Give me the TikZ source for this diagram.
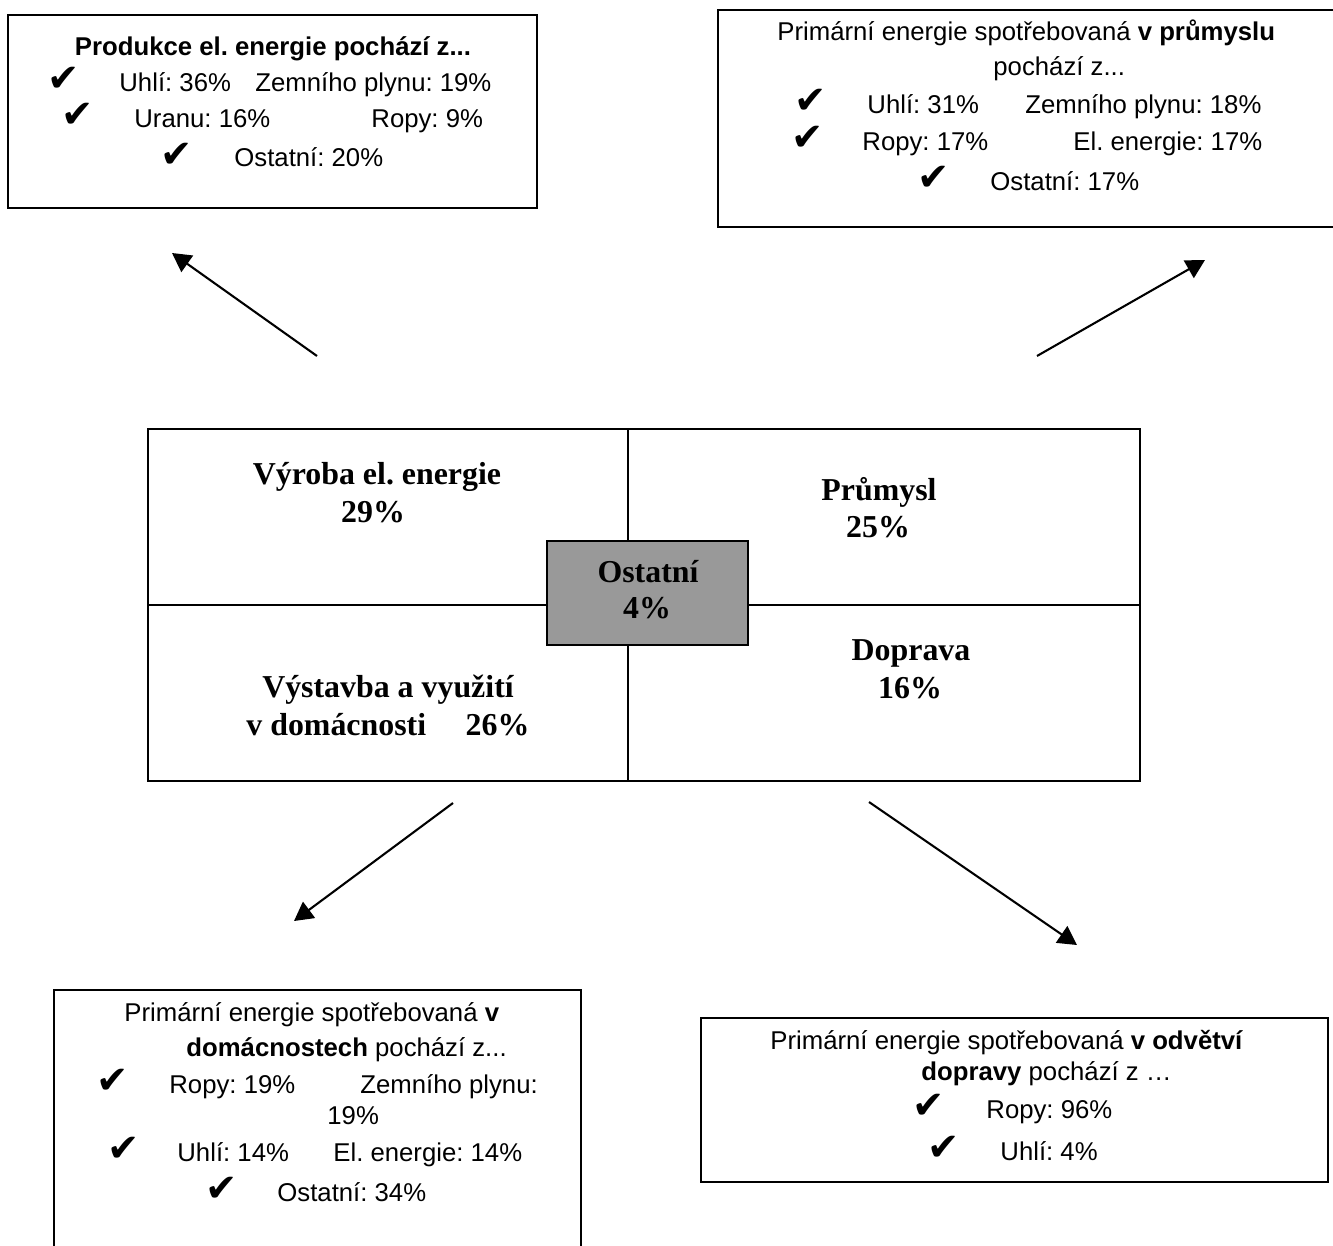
\documentclass[tikz,border=0pt]{standalone}
\usepackage{fontspec}
\usepackage{xcolor}
\usepackage{tikz}
\usetikzlibrary{arrows.meta}

\setmainfont{Liberation Sans}
\newfontfamily\quadfont{Liberation Serif}
\newfontfamily\tickfont{DejaVu Sans}
\frenchspacing

\definecolor{ostgray}{gray}{0.6}

\tikzset{
    box/.style={draw=black, line width=1pt},
    txt/.style={inner sep=0pt, anchor=base west, font=\fontsize{12.35}{15}\selectfont},
    btxt/.style={txt, anchor=base, font=\fontsize{12.35}{15}\selectfont\bfseries},
    quad/.style={inner sep=0pt, anchor=base, font=\quadfont\fontsize{15.3}{18}\selectfont\bfseries},
    tick/.style={inner sep=0pt, anchor=base west, text height=11pt, text depth=0pt, font=\tickfont\fontsize{18.5}{18.5}\selectfont},
    arr/.style={line width=1pt, -{Triangle[length=9pt, width=9.6pt]}}
}

\begin{document}
\begin{tikzpicture}[x=0.48pt, y=-0.48pt]
        \useasboundingbox (0,0) rectangle (1333,1245);

        % electricity production
        \draw[box] (8,15) rectangle (537,208);
        \node[btxt] (prodTitle) at (273,56) {Produkce el. energie pochází z...};
        \node[tick] (prodTickA) at (47,92) {✔};
        \node[txt] (prodUhli) at (119,92) {Uhlí: 36\%};
        \node[txt] (prodPlyn) at (255,92) {Zemního plynu: 19\%};
        \node[tick] (prodTickB) at (61,128) {✔};
        \node[txt] (prodUran) at (134,128) {Uranu: 16\%};
        \node[txt] (prodRopa) at (371,128) {Ropy: 9\%};
        \node[tick] (prodTickC) at (160,168) {✔};
        \node[txt] (prodOst) at (234,167) {Ostatní: 20\%};

        % industry
        \draw[box] (718,10) rectangle (1345,227);
        \node[txt] (prumTitle) at (777,41) {Primární energie spotřebovaná \textbf{v průmyslu}};
        \node[txt] (prumFrom) at (993,76) {pochází z...};
        \node[tick] (prumTickA) at (794,114) {✔};
        \node[txt] (prumUhli) at (867,114) {Uhlí: 31\%};
        \node[txt] (prumPlyn) at (1025,114) {Zemního plynu: 18\%};
        \node[tick] (prumTickB) at (791,151) {✔};
        \node[txt] (prumRopa) at (862,151) {Ropy: 17\%};
        \node[txt] (prumElek) at (1073,151) {El. energie: 17\%};
        \node[tick] (prumTickC) at (917,191) {✔};
        \node[txt] (prumOst) at (990,191) {Ostatní: 17\%};

        % households
        \draw[box] (54,1265) -- (54,990) -- (581,990) -- (581,1265);
        \node[txt] (domTitle) at (124,1021) {Primární energie spotřebovaná \textbf{v}};
        \node[txt] (domFrom) at (186,1056) {\textbf{domácnostech} pochází z...};
        \node[tick] (domTickA) at (96,1093) {✔};
        \node[txt] (domRopa) at (169,1093) {Ropy: 19\%};
        \node[txt] (domPlyn) at (360,1093) {Zemního plynu:};
        \node[txt] (domPlynB) at (327,1124) {19\%};
        \node[tick] (domTickB) at (107,1161) {✔};
        \node[txt] (domUhli) at (177,1161) {Uhlí: 14\%};
        \node[txt] (domElek) at (333,1161) {El. energie: 14\%};
        \node[tick] (domTickC) at (205,1201) {✔};
        \node[txt] (domOst) at (277,1201) {Ostatní: 34\%};

        % transport
        \draw[box] (701,1018) rectangle (1328,1182);
        \node[txt] (dopTitle) at (770,1049) {Primární energie spotřebovaná \textbf{v odvětví}};
        \node[txt] (dopFrom) at (921,1080) {\textbf{dopravy} pochází z …};
        \node[tick] (dopTickA) at (912,1118) {✔};
        \node[txt] (dopRopa) at (986,1118) {Ropy: 96\%};
        \node[tick] (dopTickB) at (927,1160) {✔};
        \node[txt] (dopUhli) at (1000,1160) {Uhlí: 4\%};

        % sectors
        \draw[box] (148,429) rectangle (1140,781);
        \draw[box] (628,429) -- (628,781);
        \draw[box] (148,605) -- (1140,605);
        \draw[box, fill=ostgray] (547,541) rectangle (748,645);

        \node[quad] (vyroba) at (377,484) {Výroba el. energie};
        \node[quad] (vyrobaPct) at (373,522) {29\%};
        \node[quad] (prumysl) at (879,500) {Průmysl};
        \node[quad] (prumyslPct) at (878,537) {25\%};
        \node[quad] (ostatni) at (648,582) {Ostatní};
        \node[quad] (ostatniPct) at (647,618) {4\%};
        \node[quad] (doprava) at (911,660) {Doprava};
        \node[quad] (dopravaPct) at (910,698) {16\%};
        \node[quad] (vystavba) at (388,697) {Výstavba a využití};
        \node[quad, anchor=base west] (vystavbaPct) at (246,735) {v domácnosti\hspace{19pt}26\%};

        % arrows
        \coordinate (vyrobaOut) at (317,356);
        \coordinate (prodIn) at (172,253);
        \coordinate (prumyslOut) at (1037,356);
        \coordinate (prumIn) at (1205,260);
        \coordinate (vystavbaOut) at (453,803);
        \coordinate (domIn) at (294,921);
        \coordinate (dopravaOut) at (869,802);
        \coordinate (dopIn) at (1077,945);

        \draw[arr] (vyrobaOut) -- (prodIn);
        \draw[arr] (prumyslOut) -- (prumIn);
        \draw[arr] (vystavbaOut) -- (domIn);
        \draw[arr] (dopravaOut) -- (dopIn);
    \end{tikzpicture}
\end{document}
